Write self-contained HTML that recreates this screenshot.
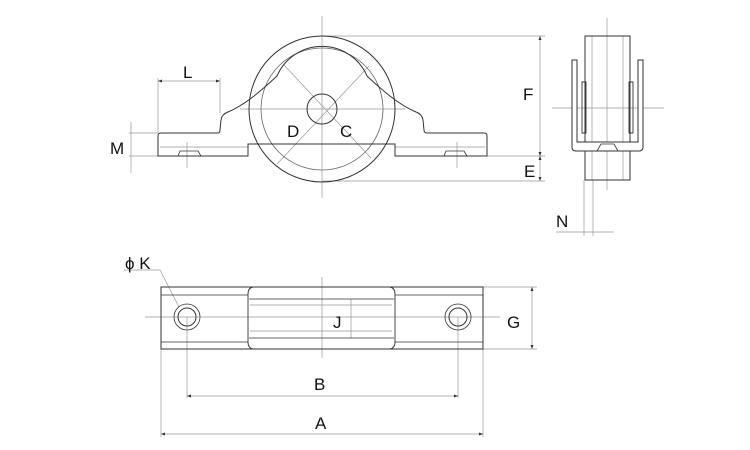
<!DOCTYPE html>
<html><head><meta charset="utf-8"><style>html,body{margin:0;padding:0;background:#fff}svg{display:block}text{font-family:"Liberation Sans",sans-serif;font-size:17px;fill:#111}</style></head><body>
<svg width="750" height="450" viewBox="0 0 750 450" xmlns="http://www.w3.org/2000/svg">
<g fill="none" stroke="#999" stroke-width="0.7">
<line x1="322" y1="16" x2="322" y2="198"/>
<line x1="240" y1="109" x2="405" y2="109"/>
<line x1="284" y1="65" x2="371" y2="158"/>
<line x1="369" y1="66" x2="277" y2="164"/>
<line x1="187" y1="142" x2="187" y2="168"/>
<line x1="457" y1="142" x2="457" y2="168"/>
<line x1="160" y1="147" x2="248" y2="147"/>
<line x1="395" y1="147" x2="485" y2="147"/>
<line x1="158" y1="78" x2="158" y2="133"/>
<line x1="220" y1="78" x2="220" y2="113"/>
<line x1="158" y1="81" x2="220" y2="81"/>
<line x1="129" y1="133" x2="158" y2="133"/>
<line x1="129" y1="156" x2="158" y2="156"/>
<line x1="131" y1="122" x2="131" y2="173"/>
<line x1="322" y1="36" x2="545" y2="36"/>
<line x1="487" y1="156" x2="545" y2="156"/>
<line x1="322" y1="181" x2="545" y2="181"/>
<line x1="540" y1="36" x2="540" y2="181"/>
<line x1="607" y1="18" x2="607" y2="190"/>
<line x1="552" y1="108" x2="664" y2="108"/>
<line x1="592" y1="36" x2="592" y2="180"/>
<line x1="623" y1="36" x2="623" y2="180"/>
<line x1="584" y1="180" x2="584" y2="236"/>
<line x1="593" y1="180" x2="593" y2="236"/>
<line x1="556" y1="232" x2="614" y2="232"/>
<line x1="322" y1="277" x2="322" y2="358"/>
<line x1="145" y1="317" x2="500" y2="317"/>
<line x1="187" y1="317" x2="187" y2="398"/>
<line x1="458" y1="317" x2="458" y2="398"/>
<line x1="161" y1="349" x2="161" y2="437"/>
<line x1="483" y1="349" x2="483" y2="437"/>
<line x1="187" y1="396" x2="458" y2="396"/>
<line x1="161" y1="434" x2="483" y2="434"/>
<line x1="483" y1="287" x2="537" y2="287"/>
<line x1="483" y1="349" x2="537" y2="349"/>
<line x1="532" y1="287" x2="532" y2="349"/>
<line x1="351" y1="299" x2="351" y2="338"/>
<line x1="250" y1="305" x2="392" y2="305"/>
<line x1="250" y1="331" x2="392" y2="331"/>
<polyline points="124,270 160,270 179,307"/>
</g>
<g fill="none" stroke="#333" stroke-width="1">
<circle cx="322" cy="109" r="73"/>
<circle cx="322" cy="109" r="61" stroke="#666" stroke-width="0.8"/>
<circle cx="322" cy="109" r="15"/>
<path d="M248,156 L158,156 L158,136 Q158,133 161,133 L218,133 Q220,133 220,130 L221,120 Q222,114 228,112 C245,105 262,90 277,76 A49 49 0 0 1 367,76 C382,90 399,105 416,112 Q422,114 423,120 L424,130 Q424,133 427,133 L484,133 Q487,133 487,136 L487,156 L395,156 L395,144 L248,144 Z"/>
<path d="M178,156 L180,151 L198,151 L201,156 M444,156 L446,151 L464,151 L467,156" stroke-width="0.8"/>
<rect x="585" y="36" width="45" height="144"/>
<path d="M572,60 L577,60 L577,142 L638,142 L638,60 L643,60 L643,147 Q643,151 639,151 L576,151 Q572,151 572,147 Z" fill="#fff"/>
<path d="M582,82 L586,82 L586,133 L582,133 Z M629,82 L633,82 L633,133 L629,133 Z" stroke-width="0.9"/>
<path d="M597,151 L601,144 L614,144 L618,151" stroke-width="0.8"/>
<line x1="585" y1="151" x2="585" y2="180"/><line x1="630" y1="151" x2="630" y2="180"/>
<rect x="161" y="287" width="322" height="62"/>
<line x1="161" y1="295" x2="248" y2="295" stroke-width="0.7"/>
<line x1="395" y1="295" x2="483" y2="295" stroke-width="0.7"/>
<line x1="161" y1="342" x2="248" y2="342" stroke-width="0.7"/>
<line x1="395" y1="342" x2="483" y2="342" stroke-width="0.7"/>
<path d="M253,287 Q248,288 248,294 L248,342 Q248,348 253,349 M390,287 Q395,288 395,294 L395,342 Q395,348 390,349" stroke-width="0.9"/>
<line x1="249" y1="299" x2="394" y2="299" stroke-width="0.8"/>
<line x1="249" y1="338" x2="394" y2="338" stroke-width="0.8"/>
<circle cx="187" cy="317" r="13" stroke-width="0.8"/><circle cx="187" cy="317" r="9"/>
<circle cx="458" cy="317" r="13" stroke-width="0.8"/><circle cx="458" cy="317" r="9"/>
</g>
<g fill="#333">
<path d="M158,81 l4,-1.5 v3 z M220,81 l-4,-1.5 v3 z"/>
<path d="M540,36 l-1.5,4 h3 z M540,156 l-1.5,-4 h3 z M540,156 l-1.5,4 h3 z M540,181 l-1.5,-4 h3 z"/>
<path d="M187,396 l4,-1.5 v3 z M458,396 l-4,-1.5 v3 z M161,434 l4,-1.5 v3 z M483,434 l-4,-1.5 v3 z"/>
<path d="M532,287 l-1.5,4 h3 z M532,349 l-1.5,-4 h3 z"/>
</g>
<text x="183" y="78">L</text>
<text x="110" y="154">M</text>
<text x="287" y="137">D</text>
<text x="340" y="137">C</text>
<text x="523" y="100">F</text>
<text x="524" y="177">E</text>
<text x="556" y="227">N</text>
<text x="125" y="269">ϕ K</text>
<text x="333" y="328">J</text>
<text x="507" y="328">G</text>
<text x="314" y="390">B</text>
<text x="315" y="429">A</text>
</svg>
</body></html>
